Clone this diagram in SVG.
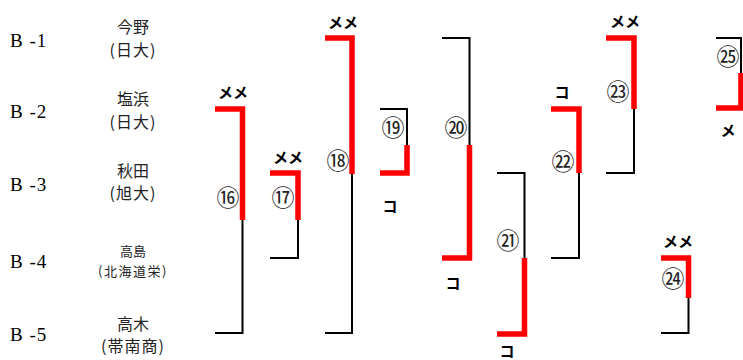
<svg xmlns="http://www.w3.org/2000/svg" width="743" height="360" viewBox="0 0 743 360">
<style>
.bk{fill:none;stroke:#000;stroke-width:2;stroke-linejoin:miter}
.rd{fill:none;stroke:#ff0000;stroke-width:5.5;stroke-linejoin:miter}
.lbl{font-family:"Liberation Serif","Noto Sans CJK JP",serif;font-size:19px;fill:#000}
.nm{font-family:"Noto Sans CJK JP",sans-serif;font-size:16px;fill:#222;text-anchor:middle}
.nms{font-family:"Noto Sans CJK JP",sans-serif;font-size:13px;fill:#222;text-anchor:middle}
.num{font-family:"Noto Sans CJK JP",sans-serif;font-size:23px;fill:#222;text-anchor:middle}
.res{font-family:"Noto Sans CJK JP",sans-serif;font-size:15px;font-weight:bold;fill:#000;text-anchor:middle}
</style>
<rect width="743" height="360" fill="#fff"/>
<g id="players">
<g id="b1"><text class="lbl" x="10" y="47" letter-spacing="1">B -1</text><text class="nm" x="133" y="33">今野</text><text class="nm" x="133" y="56" letter-spacing="1">(日大)</text></g>
<g id="b2"><text class="lbl" x="10" y="118" letter-spacing="1">B -2</text><text class="nm" x="133" y="105">塩浜</text><text class="nm" x="133" y="128" letter-spacing="1">(日大)</text></g>
<g id="b3"><text class="lbl" x="10" y="191" letter-spacing="1">B -3</text><text class="nm" x="133" y="177">秋田</text><text class="nm" x="133" y="199" letter-spacing="1">(旭大)</text></g>
<g id="b4"><text class="lbl" x="10" y="268" letter-spacing="1">B -4</text><text class="nms" x="133" y="256">高島</text><text class="nms" x="133" y="276" letter-spacing="1.5">(北海道栄)</text></g>
<g id="b5"><text class="lbl" x="10" y="341" letter-spacing="1">B -5</text><text class="nm" x="133" y="330">高木</text><text class="nm" x="133" y="352" letter-spacing="1">(帯南商)</text></g>
</g>
<g id="connectors">
<path class="rd" d="M215,109 H242.5 V220"/><path class="bk" d="M242.5,220 V333 H215"/>
<path class="rd" d="M270,173 H298 V220"/><path class="bk" d="M298,220 V258 H270"/>
<path class="rd" d="M325,38 H352 V174"/><path class="bk" d="M352,174 V333 H325"/>
<path class="bk" d="M380,109 H407 V145"/><path class="rd" d="M407,145 V173 H380"/>
<path class="bk" d="M442,38 H469.5 V145"/><path class="rd" d="M469.5,145 V258 H442"/>
<path class="bk" d="M497,173 H524.5 V258"/><path class="rd" d="M524.5,258 V334 H497"/>
<path class="rd" d="M551,109 H579 V173"/><path class="bk" d="M579,173 V258 H551"/>
<path class="rd" d="M606,38 H634 V109"/><path class="bk" d="M634,109 V173 H606"/>
<path class="rd" d="M661,258 H688.5 V298"/><path class="bk" d="M688.5,298 V333 H661"/>
<path class="bk" d="M716,38 H741 V73"/><path class="rd" d="M741,73 V108 H716"/>
</g>
<g id="m16"><text class="num" x="228" y="206">⑯</text><text class="res" x="233" y="98">メメ</text></g>
<g id="m17"><text class="num" x="283" y="206">⑰</text><text class="res" x="288" y="163">メメ</text></g>
<g id="m18"><text class="num" x="338" y="169">⑱</text><text class="res" x="343" y="28">メメ</text></g>
<g id="m19"><text class="num" x="393" y="136">⑲</text><text class="res" x="390" y="212">コ</text></g>
<g id="m20"><text class="num" x="456" y="136">⑳</text><text class="res" x="453" y="289">コ</text></g>
<g id="m21"><text class="num" x="508" y="249">㉑</text><text class="res" x="507" y="357">コ</text></g>
<g id="m22"><text class="num" x="563" y="170">㉒</text><text class="res" x="562" y="98">コ</text></g>
<g id="m23"><text class="num" x="618" y="100">㉓</text><text class="res" x="625" y="27">メメ</text></g>
<g id="m24"><text class="num" x="673" y="287">㉔</text><text class="res" x="678" y="247">メメ</text></g>
<g id="m25"><text class="num" x="728" y="65">㉕</text><text class="res" x="728" y="136">メ</text></g>
</svg>
